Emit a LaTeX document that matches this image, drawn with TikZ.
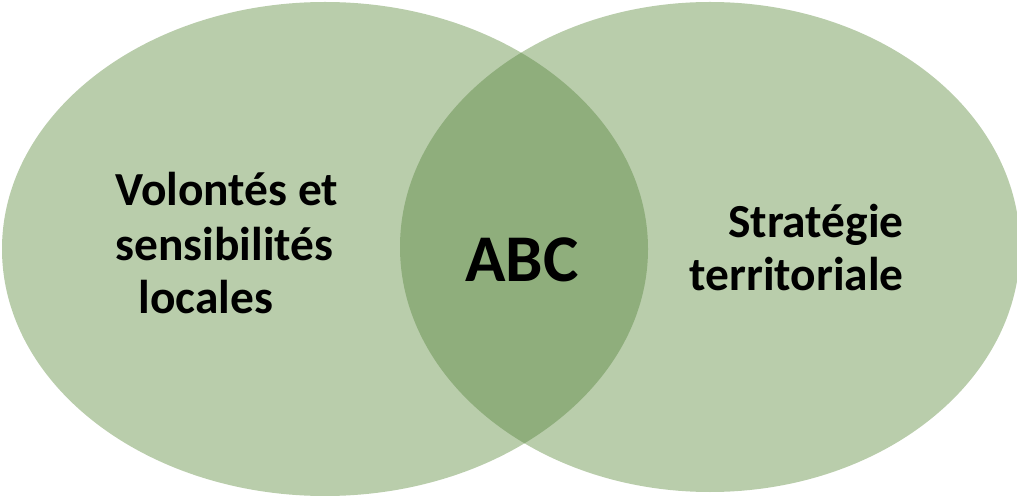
\documentclass[tikz,border=0pt]{standalone}
\usepackage{fontspec}
\setmainfont{Carlito}
\definecolor{setlight}{HTML}{B9CDAB}
\definecolor{setdark}{HTML}{8FAE7C}
\tikzset{
  label/.style={inner sep=0pt, font=\fontsize{27}{32}\selectfont\bfseries},
}

\begin{document}
\begin{tikzpicture}[x=0.02cm, y=-0.02cm]
\useasboundingbox (0,0) rectangle (1017,496);

% Draw the two sets
\fill[setlight] (325,249) ellipse [x radius=323, y radius=247];
\fill[setlight] (710,247) ellipse [x radius=310, y radius=245];
% Overlap is darker
\begin{scope}
\clip (325,249) ellipse [x radius=323, y radius=247];
\fill[setdark] (710,247) ellipse [x radius=310, y radius=245];
\end{scope}

% Left set
\node[label, anchor=base west] (left1) at (115,206) {Volontés et};
\node[label, anchor=base west] (left2) at (115,261) {sensibilités};
\node[label, anchor=base west] (left3) at (138,314) {locales};
% Right set
\node[label, anchor=base east] (right1) at (904,238) {Stratégie};
\node[label, anchor=base east] (right2) at (904,291) {territoriale};
% Intersection
\node[label, anchor=base, font=\fontsize{38}{45}\selectfont\bfseries] (abc) at (522,282) {ABC};
\end{tikzpicture}
\end{document}
